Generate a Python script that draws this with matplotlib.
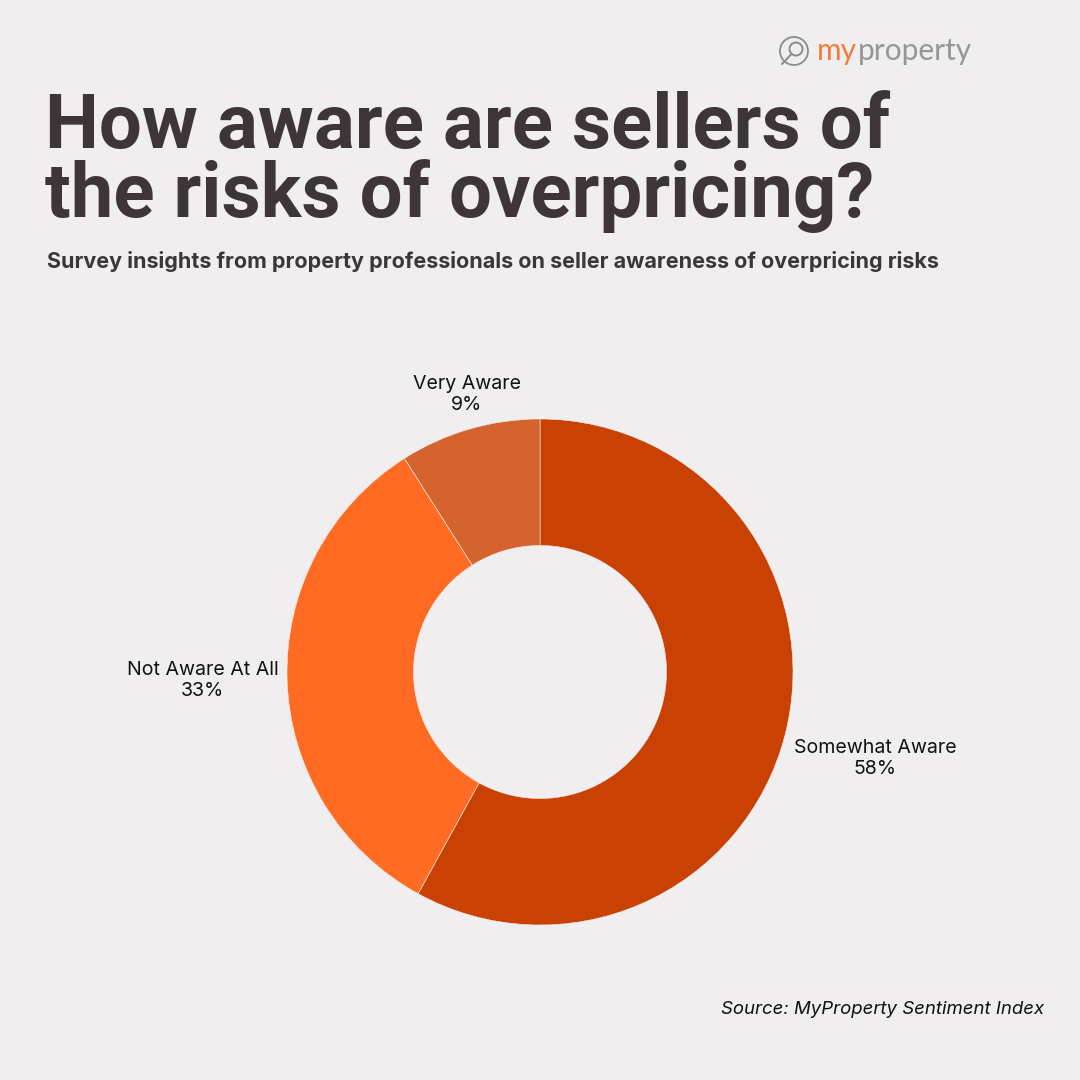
import numpy as np
import matplotlib
matplotlib.use("Agg")
import matplotlib.pyplot as plt
from matplotlib.patches import Arc, Circle
from matplotlib.lines import Line2D

categories = ["Somewhat Aware", "Not Aware At All", "Very Aware"]
values = [58, 33, 9]
colors = ["#C94103", "#FF6B22", "#D5632E"]

title_text = "How aware are sellers of\nthe risks of overpricing?"
subtitle = "Survey insights from property professionals on seller awareness of overpricing risks"
source = "Source: MyProperty Sentiment Index"

BG = "#F0EEEF"
TXT = "#3E3636"
W = H = 1080

fig = plt.figure(figsize=(10.8, 10.8), dpi=100, facecolor=BG)

def fy(y):
    return 1 - y / H

# Title
fig.text(45 / W, fy(217), title_text, fontsize=54.8, fontweight="bold", family=["Roboto", "DejaVu Sans"],
         color=TXT, ha="left", va="baseline", linespacing=0.92)
fig.text(47 / W, fy(268), subtitle, fontsize=15.5, fontweight="bold", family=["Inter", "DejaVu Sans"],
         color=TXT, ha="left", va="baseline")

# Source
fig.text(1044 / W, fy(1014), source, fontsize=13.4, style="italic", family=["Inter", "DejaVu Sans"],
         color="#111111", ha="right", va="baseline")

# Donut
cx, cy, R = 540, 672, 253
half = 1.5 * R
ax = fig.add_axes([(cx - half) / W, (H - cy - half) / H, 2 * half / W, 2 * half / H])
wedges, _ = ax.pie(values, colors=colors, startangle=90, counterclock=False, radius=1,
                   wedgeprops=dict(width=0.5, edgecolor=BG, linewidth=0.4))
ax.set_xlim(-1.5, 1.5)
ax.set_ylim(-1.5, 1.5)
ax.set_aspect("equal")
ax.axis("off")

for w, cat, v in zip(wedges, categories, values):
    ang = np.deg2rad((w.theta1 + w.theta2) / 2)
    c, s = np.cos(ang), np.sin(ang)
    ha = "left" if c > 0.5 else ("right" if c < -0.5 else "center")
    va = "bottom" if s > 0.5 else ("top" if s < -0.2 else "center")
    ax.text(1.035 * c, 1.06 * s, f"{cat}\n{v}%", ha=ha, va=va, multialignment="center",
            fontsize=14.1, family=["Inter", "DejaVu Sans"], color="#111111", linespacing=1.22)

# Logo
lax = fig.add_axes([0, 0, 1, 1], facecolor="none")
lax.set_xlim(0, W)
lax.set_ylim(H, 0)
lax.axis("off")
gray = "#8C8C8C"
lax.add_patch(Arc((794, 51), 28, 28, theta1=-250, theta2=110, color=gray, lw=1.3))
lax.add_patch(Circle((796, 49), 6.5, fill=False, color=gray, lw=1.4))
lax.add_line(Line2D([791.5, 782], [54, 64], color=gray, lw=1.4))
t1 = lax.text(817, 60, "my", fontsize=21.5, family=["Lato", "DejaVu Sans"], fontweight="normal",
              color="#F47B3E", ha="left", va="baseline")
fig.canvas.draw()
r = fig.canvas.get_renderer()
bb = t1.get_window_extent(r)
lax.text(bb.x1 + 1, 60, "property", fontsize=21.5, family=["Lato", "DejaVu Sans"], fontweight="normal",
         color="#969696", ha="left", va="baseline")

fig.savefig("out.png", dpi=100, facecolor=BG)
